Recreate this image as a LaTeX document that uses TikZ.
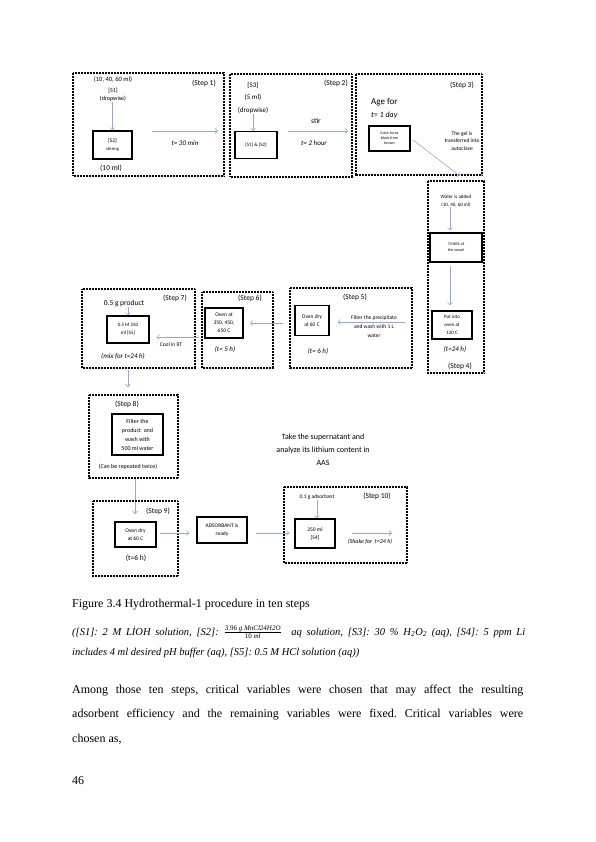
\documentclass[tikz,border=0pt]{standalone}
\usepackage{fontspec}
\setmainfont{Liberation Serif}
\newfontfamily\calib{Carlito}
\usetikzlibrary{arrows.meta}
\definecolor{arrowblue}{RGB}{143,170,214}
\newcommand\fs[2]{\fontsize{#1}{#2}\selectfont}
\frenchspacing
\begin{document}
\begin{tikzpicture}[x=1pt,y=-1pt,
  frame/.style={draw=black, line width=1.2pt, dash pattern=on 0.8pt off 0.7pt},
  bx/.style={draw=black, line width=1.1pt, inner sep=0pt, align=center, font=\calib\fs{5.5}{8}},
  arr/.style={draw=arrowblue, line width=0.6pt, -{Straight Barb[length=2.5pt,width=5pt]}},
  lbl/.style={inner sep=0pt, align=center, font=\calib\fs{7.5}{9}},
  ital/.style={lbl, font=\calib\itshape\fs{7}{9}},
  txt/.style={anchor=base west, inner sep=0pt, font=\fs{12}{14}}]
\path[use as bounding box, fill=white] (0,0) rectangle (595,842);

% ---------------- Step 1
\draw[frame] (73,73) rectangle (224,176);
\node[lbl, font=\calib\fs{6.5}{8}] (v1) at (113,80) {(10, 40, 60 ml)};
\node[lbl] (st1) at (204,83) {(Step 1)};
\node[lbl, font=\calib\fs{6}{8.5}] (s1) at (113,95) {[S1]\\(dropwise)};
\node[bx, minimum width=39pt, minimum height=28pt] (s2) at (112.5,145) {{\fs{5.5}{7}[S2]}\\{\fs{4.5}{7}stirring}};
\draw[arr] (s1.south -| s2.north) -- (s2.north);
\node[lbl] (ml10) at (111,168) {(10 ml)};
\coordinate (a1s) at (152,131);
\coordinate (a1e) at (218,131);
\draw[arr] (a1s) -- (a1e);
\node[ital] (t1) at (185,143) {t= 30 min};

% ---------------- Step 2
\draw[frame] (230,74) rectangle (352,177);
\node[lbl, font=\calib\fs{7}{12.5}] (s3) at (253,98) {[S3]\\(5 ml)\\(dropwise)};
\node[bx, minimum width=42pt, minimum height=27pt, font=\calib\fs{5}{6}] (s12) at (256,145) {[S1] \& [S2]};
\draw[arr] (s3.south) -- (s3.south |- s12.north);
\node[lbl] (st2) at (336,83) {(Step 2)};
\node[lbl] (stir) at (316,121) {stir};
\coordinate (a2s) at (288,131);
\coordinate (a2e) at (348,131);
\draw[arr] (a2s) -- (a2e);
\node[ital] (t2) at (314,143) {t= 2 hour};

% ---------------- Step 3
\draw[frame] (356,74) rectangle (482,175);
\node[lbl] (st3) at (462,85) {(Step 3)};
\node[lbl, anchor=west, font=\calib\fs{9}{10}] (age) at (371,102) {Age for};
\node[lbl, anchor=west, font=\calib\itshape\fs{8}{9}] (t3) at (371,115) {t= 1 day};
\node[bx, minimum width=41pt, minimum height=25pt, font=\calib\fs{4}{5}] (col) at (389.5,138.5) {Color turns\\black from\\brown};
\node[lbl, font=\calib\fs{5.5}{7.5}] (gel) at (462,141) {The gel is\\transferred into\\autoclave};
\coordinate (a3s) at (413,140);
\coordinate (a3e) at (460,176);
\draw[arr] (a3s) -- (a3e);

% ---------------- Step 4
\draw[frame] (428,181) rectangle (484,373);
\coordinate (x450) at (450,0);
\node[lbl, font=\calib\fs{5}{8}] (wat) at (456,201) {Water is added\\(10, 40, 60 ml)};
\node[bx, minimum width=52pt, minimum height=29pt, font=\calib\fs{4}{6}] (ves) at (456,247.5) {70-80\% of\\the vessel};
\node[bx, minimum width=40pt, minimum height=28pt, font=\calib\fs{5}{8}] (ov4) at (452,325) {Put into\\oven at\\120 C};
\draw[arr, shorten >=2pt] (wat.south -| x450) -- (ves.north -| x450);
\draw[arr, shorten <=3pt, shorten >=5pt] (ves.south -| x450) -- (ov4.north -| x450);
\node[ital] (t4) at (455,349) {(t=24 h)};
\node[lbl] (st4) at (460,366) {(Step 4)};

% ---------------- Step 5
\draw[frame] (290,288) rectangle (412,368);
\node[lbl] (st5) at (355,297) {(Step 5)};
\node[bx, minimum width=34pt, minimum height=30pt] (ov5) at (312,320.5) {Oven dry\\at 60 C};
\coordinate (a5s) at (405,322);
\draw[arr, shorten >=8pt] (a5s) -- (ov5.east |- a5s);
\node[lbl, font=\calib\fs{5.5}{9}] (filt) at (374,327) {Filter the precipitate\\and wash with 1 L\\water};
\node[ital] (t5) at (318,351) {(t= 6 h)};
\coordinate (a56s) at (283,323);
\coordinate (a56e) at (250,323);
\draw[arr] (a56s) -- (a56e);

% ---------------- Step 6
\draw[frame] (202,292) rectangle (273,368);
\node[lbl] (st6) at (250,298) {(Step 6)};
\node[bx, minimum width=38pt, minimum height=30pt] (ov6) at (224,323) {Oven at\\350, 450,\\650 C};
\node[ital] (t6) at (225,349) {(t= 5 h)};
\coordinate (a67s) at (199,337);

% ---------------- Step 7
\draw[frame] (82,289) rectangle (195,368);
\node[lbl] (prod) at (124,304) {0.5 g product};
\node[lbl] (st7) at (175,298) {(Step 7)};
\node[bx, minimum width=42pt, minimum height=27pt, font=\calib\fs{5}{8}] (s5) at (128,329.5) {0.5 M 250\\ml [S5]};
\draw[arr] (prod.south -| s5.north) -- (s5.north);
\draw[arr, shorten >=7pt] (a67s) -- (s5.east |- a67s);
\node[lbl, font=\calib\fs{5.5}{7}] (cool) at (171,345) {Cool in RT};
\node[ital] (t7) at (123,356) {(mix for t=24 h)};
\coordinate (a78s) at (128,370);
\coordinate (a78e) at (128,387);
\draw[arr] (a78s) -- (a78e);

% ---------------- Step 8
\draw[frame] (89,395) rectangle (178,478);
\node[lbl] (st8) at (127,404) {(Step 8)};
\node[bx, minimum width=51pt, minimum height=41pt, font=\calib\fs{6}{9}] (filt8) at (137.5,434.5) {Filter the\\product~ and\\wash with\\500 ml water};
\node[lbl, font=\calib\fs{6}{7}] (rep) at (128,467) {(Can be repeated twice)};
\coordinate (a89s) at (135,479);
\coordinate (a89e) at (135,514);
\draw[arr] (a89s) -- (a89e);

% ---------------- Step 9
\draw[frame] (93,501) rectangle (178,576);
\node[lbl] (st9) at (158,511) {(Step 9)};
\node[bx, minimum width=41pt, minimum height=25pt] (ov9) at (135.5,534.5) {Oven dry\\at 60 C};
\node[lbl] (t9) at (136,558) {(t=6 h)};
\node[bx, minimum width=50pt, minimum height=26pt] (ads) at (222,530) {ADSORBANT is\\ready};
\coordinate (a9s) at (160,533);
\draw[arr, shorten >=7pt] (a9s) -- (ads.west |- a9s);

% ---------------- Step 10
\draw[frame] (284,487) rectangle (407,563);
\node[lbl, font=\calib\fs{5.5}{7}] (g01) at (317,497) {0.1 g adsorbant};
\node[lbl] (st10) at (377,496) {(Step 10)};
\node[bx, minimum width=40pt, minimum height=29pt] (s4) at (315,533.5) {250 ml\\{[S4]}};
\draw[arr] (g01.south) -- (g01.south |- s4.north);
\draw[arr, shorten <=8pt, shorten >=5pt] (ads.east |- a9s) -- (s4.west |- a9s);
\coordinate (a10s) at (352,533);
\coordinate (a10e) at (392,533);
\draw[arr] (a10s) -- (a10e);
\node[lbl, font=\calib\itshape\fs{6}{7}] (shake) at (370,542) {(Shake for~ t=24 h)};

\node[lbl, font=\calib\fs{8}{13}] (aas) at (323,450) {Take the supernatant and\\analyze its lithium content in\\AAS};

% ---------------- caption and text
\node[txt] (fig) at (72,607) {Figure 3.4 Hydrothermal-1 procedure in ten steps};
\node[txt, font=\itshape\fs{10.5}{12}] (cap1) at (72,635) {\hbox to 453pt{([S1]: 2 M LİOH solution, [S2]: $\frac{\hbox{\fs{7}{8}\itshape{\upshape 3.96} g MnCl24H2O}}{\hbox{\fs{7}{8}\itshape{\upshape 10} ml}}$\ \ aq solution, [S3]: 30 \% H\textsubscript{2}O\textsubscript{2} (aq), [S4]: 5 ppm Li}};
\node[txt, font=\itshape\fs{10.5}{12}] (cap2) at (72,655) {includes 4 ml desired pH buffer (aq), [S5]: 0.5 M HCl solution (aq))};
\node[txt] (p1) at (72,693) {\hbox to 451pt{Among those ten steps, critical variables were chosen that may affect the resulting}};
\node[txt] (p2) at (72,717.5) {\hbox to 451pt{adsorbent efficiency and the remaining variables were fixed. Critical variables were}};
\node[txt] (p3) at (72,742) {chosen as,};
\node[txt] (pg) at (72,784) {46};
\end{tikzpicture}
\end{document}
